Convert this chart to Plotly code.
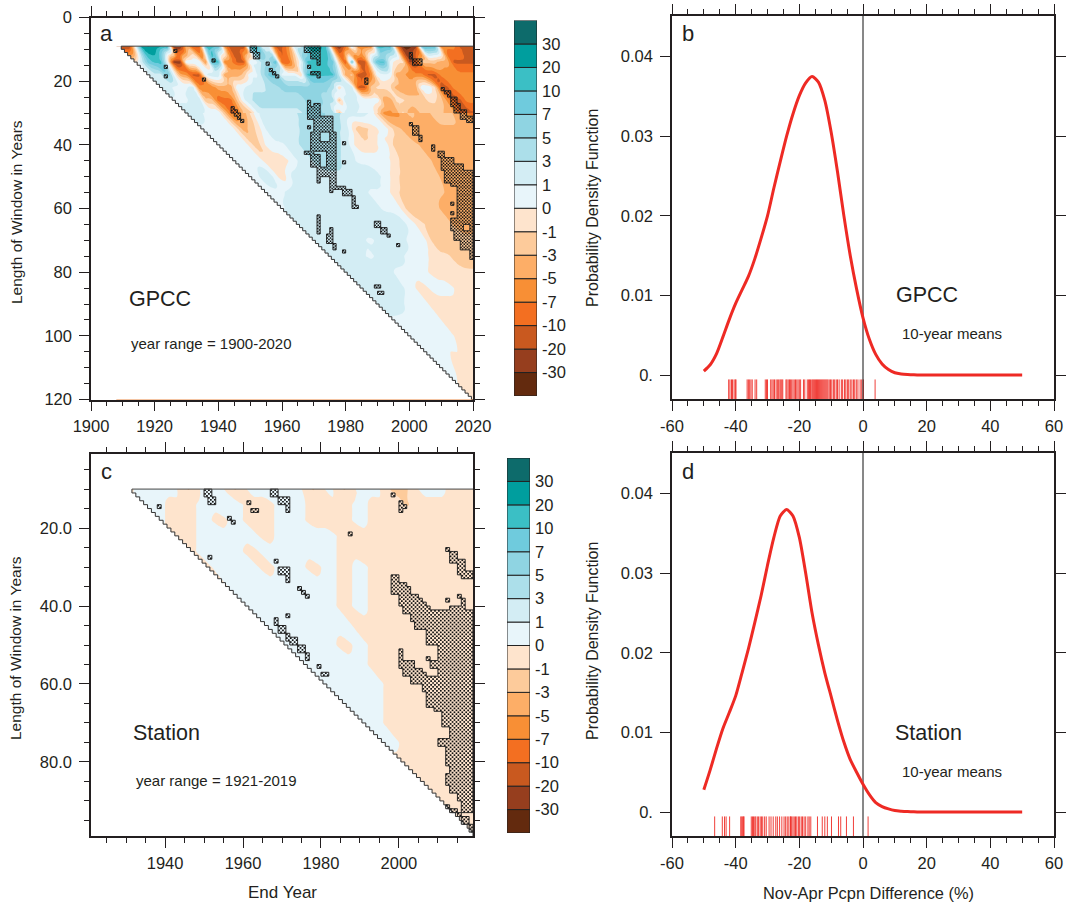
import numpy as np
import plotly.graph_objects as go

# ---------- data ----------
bin_levels = [-60, -30, -20, -10, -7, -5, -3, -1, 0, 1, 3, 5, 7, 10, 20, 30, 60]
bin_colors = ["#632A0E", "#963E1E", "#C9591F", "#F36F21", "#F88F35", "#FDAE67", "#FDCB9B", "#FEE4CD",
              "#E8F5FA", "#D3EDF4", "#ACDFEA", "#8FD4E2", "#6FCBDD", "#3BBFC5", "#009E9E", "#0D6B6B"]
bin_labels = ["-30", "-20", "-10", "-7", "-5", "-3", "-1", "0", "1", "3", "5", "7", "10", "20", "30"]

# short windows, every second end-year (rows are right-aligned on 2020)
a_top_end = list(range(1908, 2021, 2))
a_top_len = [9, 14, 18, 22, 26, 30]
a_top_rows = [
    [-25,-25,-25,1,35,40,35, 25,25,-50,-50,-3,-15,-15,15,15,15, -7,-25,-25,-25,25,25,1,1,-15,-15,
     -7,3,3,30,30,30,12,-10,-50,-10, 3,-8,-8,-8,18,18,18,-8,-50,-50, -30,15,15,12,-8,-8,-8,-15,-15,-15],
    [-1,-1,3,10,15, 15,1,-30,-30,1,1,1,-7,15,15, -8,-8,-15,-15,1,1,5,5,15,-12,
     -12,-3,1,15,15,15,14,10,-3,-15, 10,-20,-20,1,14,14,1,-1,-1,-25, -25,-3,-3,-3,-5,-5,-15,-15,-15,-15],
    [1,1,3, 3,10,1,-5,-7,-15,-15,1,3,3, -5,-5,-5,-3,1,1,5,10,10,1,
     1,1,-1,15,15,15,15,15,3,-5, -3,-20,-20,-8,1,1,1,-5,-5,-8, -8,-8,-15,-15,-8,-8,-8,-8,-8,-8],
    [3, 3,3,1,1,1,3,-8,-8,-8,-5, -5,-5,1,1,3,3,3,5,5,7,
     7,7,7,7,7,7,7,5,-1,3, 3,-15,-15,-3,-1,-1,-1,-5,-5,-5, -5,1,1,-1,-15,-15,-8,-8,-8,-8],
    [1,1,1,1,3,3,-3,-3,-10, -10,-10,-3,1,3,5,5,5,5,5,
     5,5,5,7,7,7,5,5,-3,3, 3,1,1,1,1,-5,-5,-1,-1,-3, -3,-3,-1,-1,-3,-7,-15,-15,-8,-8],
    [1,3,3,3,1,1,1, -3,-10,-10,-3,-3,1,3,3,3,3,
     3,3,3,7,7,7,5,5,-3,3, 3,1,1,1,-1,-7,-7,-5,-1,-5, -5,-3,-3,-3,-3,-5,-5,-15,-15,-15],
]
# longer windows, every fourth end-year
a_end = list(range(1908, 2021, 4))
a_len = [30, 35, 40, 45, 50, 55, 60, 65, 70, 75, 80, 85, 90, 95, 100, 110, 120]
a_rows = [
    [1,3,1,1,-10,-5,1,3,3,3,7,7,5,3,3,1,-7,-7,-3,-5,-3,-3,-5,-12],
    [1,1,1,1,-5,-1,3,3,3,5,5,5,3,-3,-1,1,-3,-5,-5,-4,-4,-4,-4],
    [1,1,1,-3,1,1,3,5,5,5,3,-1,-1,1,-3,-3,-4,-4,-4,-4,-4],
    [1,1,1,-1,-1,1,3,5,5,3,1,1,1,-1,-3,-3,-4,-5,-5,-5],
    [1,1,3,-1,3,3,3,3,3,3,3,1,-1,-3,-3,-3,-5,-5,-5],
    [1,1,1,3,3,3,3,3,3,1,1,-1,-3,-3,-3,-4,-5,-5],
    [1,3,3,3,3,3,3,3,1,1,-3,-3,-3,-5,-5,-5],
    [3,3,3,3,2,3,3,3,3,1,-1,-3,-3,-5,-5],
    [3,3,3,3,2,1,3,3,1,1,-3,-3,-3,-3],
    [3,3,2,1,3,2,1,1,-1,-1,-3,-3],
    [3,3,3,3,1,1,1,-1,-1,-1,-1],
    [3,3,3,2,1,-1,1,1,-1,-1],
    [3,2,1,1,-1,-1,-1,-1],
    [1,1,1,1,-1,-1,-1],
    [1,1,1,1,-1,-1],
    [1,-1,-1],
    [-1],
]
# significant blocks: first length, end length, first end-year, end end-year
a_sig = [
    (15,16,1923,1924),(18,19,1923,1924),(10,11,1926,1927),(19,20,1935,1936),(13,14,1938,1939),
    (9,11,1950,1952),(11,13,1951,1953),(14,15,1955,1956),(16,17,1956,1957),(17,18,1957,1958),(18,19,1958,1959),
    (28,30,1944,1945),(29,31,1945,1946),(30,32,1946,1947),(32,33,1947,1948),
    (9,11,1967,1972),(11,13,1969,1972),(13,15,1971,1972),(15,16,1968,1969),(17,18,1969,1972),(18,19,1971,1972),
    (26,28,1968,1969),(27,29,1970,1972),(28,32,1968,1972),(31,36,1970,1976),(34,35,1968,1969),
    (36,39,1969,1972),(36,39,1975,1977),(39,42,1969,1977),(42,43,1967,1970),(43,47,1969,1972),
    (42,47,1974,1977),(47,50,1971,1977),(50,52,1971,1972),(50,54,1975,1977),(53,54,1976,1980),
    (54,55,1975,1976),(54,56,1979,1982),(56,59,1982,1983),(59,60,1982,1984),(39,40,1979,1980),(45,46,1979,1980),
    (11,13,2000,2001),(13,15,2001,2004),(19,21,1986,1987),
    (22,23,2010,2011),(23,24,2011,2013),(24,25,2012,2013),(25,28,2013,2015),(27,30,2014,2016),(29,32,2016,2018),(31,33,2018,2020),
    (33,34,2000,2001),(34,37,2001,2003),(37,39,2003,2004),
    (40,42,2007,2008),(42,44,2009,2011),(44,46,2010,2014),(46,48,2010,2017),(48,52,2011,2020),(52,53,2013,2020),
    (53,63,2015,2020),(58,59,2013,2014),(61,62,2013,2014),(63,65,2013,2020),(65,67,2013,2017),(65,67,2019,2020),
    (67,70,2014,2020),(70,73,2016,2020),(73,76,2019,2020),
    (62,68,1971,1972),(66,69,1975,1976),(68,71,1974,1976),(71,73,1976,1977),(73,74,1979,1980),
    (64,66,1989,1991),(66,68,1991,1993),(68,69,1993,1994),(71,72,1996,1997),(84,85,1989,1991),(86,87,1990,1992),
]

c_end = list(range(1930, 2015, 4)) + [2019]
c_len = [10, 14, 18, 22, 26, 30, 35, 40, 45, 50, 55, 60, 65, 70, 75, 80, 90, 99]
P, N, M = 0.5, -0.5, -1.5
c_rows = [
    [N,P,P,P,M,P,P,M,P,P,P,P,M,P,M,P,P,M,M,P,P,N,N],
    [P,P,N,N,P,P,P,N,N,P,P,N,N,N,P,N,N,M,N,N,N,N],
    [P,N,N,P,N,P,N,N,P,P,N,N,N,P,N,N,N,N,N,N,N],
    [N,N,P,P,P,P,N,P,P,P,P,N,N,N,N,N,N,N,N,N],
    [N,P,P,P,N,P,P,P,P,P,N,N,N,N,N,N,N,N,N],
    [N,P,P,P,N,P,P,N,P,N,P,N,N,N,N,N,N,N],
    [N,P,P,P,P,P,P,P,N,P,N,N,N,N,N,N,N],
    [P,P,P,P,P,P,N,P,N,N,N,N,N,N,N],
    [P,P,P,P,P,P,N,N,N,N,N,N,N,N],
    [P,P,P,P,N,P,N,N,N,N,N,N,N],
    [P,P,P,P,P,N,N,N,N,N,N,N],
    [P,P,P,P,N,N,N,N,N,N],
    [P,P,P,N,N,N,N,N,N],
    [P,P,N,N,N,N,N,N],
    [P,P,N,N,N,N,N],
    [N,N,N,N,N,N],
    [N,N,N,N],
    [N],
]
c_sig = [
    (10,12,1950,1952),(12,14,1951,1953),(14,15,1938,1939),(13,14,1961,1962),(15,16,1962,1964),(17,18,1956,1957),
    (18,19,1957,1958),(27,28,1951,1952),(10,12,1967,1969),(12,14,1969,1972),(14,16,1971,1972),
    (28,29,1968,1969),(30,32,1969,1972),(32,34,1971,1972),(35,36,1974,1975),(36,37,1975,1976),(37,38,1976,1977),
    (42,43,1971,1972),(43,45,1968,1969),(45,47,1969,1971),(47,49,1971,1972),(48,50,1972,1974),(50,52,1974,1976),
    (52,54,1976,1977),(55,56,1979,1980),(57,58,1980,1982),(11,12,1998,1999),(13,16,2000,2001),(14,15,2001,2002),
    (21,22,1987,1988),(25,26,2012,2013),(26,29,2013,2015),(28,32,2015,2017),(31,33,2016,2019),(38,39,2012,2013),(37,38,2015,2016),
    (32,34,1998,2000),(34,35,1998,2002),(35,37,1998,2003),(37,38,2000,2005),(38,39,2000,2006),(39,40,2000,2007),
    (40,41,2001,2008),(38,40,2016,2017),(40,41,2013,2017),(41,42,2001,2019),(42,44,2003,2019),(44,46,2004,2019),
    (46,50,2007,2019),(50,54,2010,2019),(53,54,2007,2008),(54,56,2008,2019),
    (51,54,2000,2001),(54,56,2000,2004),(56,58,2001,2006),(56,58,2010,2019),(57,58,2005,2007),(58,60,2003,2019),
    (60,62,2006,2019),(62,66,2007,2019),(66,67,2009,2019),(67,71,2011,2019),(71,74,2013,2019),(74,76,2010,2019),
    (76,81,2012,2019),(81,83,2013,2019),(83,86,2012,2019),(86,88,2013,2019),(88,90,2015,2019),(90,93,2016,2019),
    (91,92,2012,2013),(92,93,2013,2015),(93,94,2015,2016),(94,96,2016,2018),(96,98,2018,2019),
]

b_x = [-50,-48,-46,-44,-42,-40,-38,-36,-34,-32,-30,-28,-26,-24,-22,-20,-18,-16,-14,-12,-10,-8,-6,-4,-2,0,2,4,6,8,10,12,14,16,18,20,25,30,35,40,45,50]
b_y = [.0005,.0013,.0027,.0048,.0070,.0090,.0107,.0124,.0146,.0172,.0200,.0235,.0268,.0300,.0328,.0351,.0367,.0375,.0368,.0345,.0305,.0255,.0200,.0150,.0108,.0072,.0045,.0026,.0014,.0007,.0003,.00015,.00008,.00004,.00002,.00001,0,0,0,0,0,0]
d_x = b_x
d_y = [.0028,.0053,.0080,.0105,.0125,.0146,.0175,.0205,.0238,.0272,.0310,.0345,.0372,.0380,.0372,.0345,.0300,.0250,.0210,.0175,.0145,.0115,.0088,.0066,.0050,.0035,.0022,.0012,.0007,.0004,.0002,.00012,.00007,.00004,.00002,.00001,0,0,0,0,0,0]
b_rug = [-42.2,-41.8,-41.3,-41,-40.5,-40.1,-39.9,-36.4,-36,-35.6,-35.2,-34.8,-33.9,-33.4,-30.7,-30.3,-30,-29,-28.6,-28.2,-27.8,-27.3,-26.9,-26.5,-26.1,-25.8,-25.5,-25.2,
         -24.2,-23.9,-23.5,-23.1,-22.8,-22.4,-22,-21.6,-21.2,-20.8,-20.4,-20,-19.6,-18.7,-18.3,-17.5,-17.1,-16.8,-16.5,-16.1,-15.8,-15.5,-15.2,-14.9,-14.6,-14.3,-14,-13.7,-13.4,-13.1,
         -12.8,-12.5,-12.2,-11.9,-11.6,-11.3,-11,-10.6,-10.2,-9.8,-9.3,-8.9,-8.4,-8,-7.5,-6.8,-6.4,-5.8,-5.4,-4.9,-4.5,-4,-3.5,-3,-2.6,-2.1,-1.6,-0.9,-0.4,0.1,3.8]
d_rug = [-46.6,-44.2,-43.5,-43,-41.9,-38.4,-38.1,-37.8,-37.5,-37.4,-35.1,-34.7,-34.4,-34,-33.7,-33.2,-32.8,-32.3,-31.9,-31.5,-30.9,-30.4,-29.5,-28.9,-28.2,-27.4,-26.9,-26.2,-25.5,-24.8,
         -24.3,-23.8,-23.3,-22.8,-22.7,-22.4,-22,-21.6,-21.2,-20.8,-20.3,-19.9,-19.4,-19,-18.5,-18,-17.3,-16.9,-16.4,-14.3,-12.8,-12,-11.2,-9.9,-7.7,-7,-5.2,-3,1.6]

W, H = 1067, 903
FONT = "Liberation Sans"
INK = "#231F20"
RED = "#EE2A24"


def hx(px):
    return px / W


def hy(py):
    return 1 - py / H


def to_bin(values):
    # readings name the upper edge of a colour band, so pull them just inside it
    return np.interp(np.asarray(values, float) * 0.8, bin_levels, np.arange(-8, 9))


def grid(rows, ncols):
    out = []
    for r in rows:
        out.append([r[0]] * (ncols - len(r)) + list(r))
    return to_bin(out)


def sheared(end, length, rows, slant):
    # draw between the read rows along the slant of the streaks, on a one-year lattice
    g = grid(rows, len(end))
    xf = np.arange(end[0], end[-1] + 1)
    lf = np.arange(length[0], length[-1] + 1)
    out = []
    for L in lf:
        i = min(np.searchsorted(length, L, side="right") - 1, len(length) - 2)
        l1, l2 = length[i], length[i + 1]
        t = (L - l1) / (l2 - l1)
        v1 = np.interp(xf - slant * (L - l1), end, g[i])
        v2 = np.interp(xf + slant * (l2 - L), end, g[i + 1])
        out.append((1 - t) * v1 + t * v2)
    return xf, lf, np.array(out)


def sig_cells(blocks, x0):
    cells = set()
    for l0, l1, e0, e1 in blocks:
        for L in range(l0, l1):
            for E in range(e0, e1):
                if E + 1 > x0 + L + 0.5:
                    cells.add((E, L))
    return cells


def add_field(fig, xa, ya, end, length, rows, slant):
    colorscale = [[i / 15, c] for i, c in enumerate(bin_colors)]
    xf, lf, z = sheared(end, length, rows, slant)
    fig.add_trace(go.Contour(x=xf, y=lf, z=z, xaxis=xa, yaxis=ya,
                             colorscale=colorscale, showscale=False, hoverinfo="skip",
                             contours=dict(start=-7, end=7, size=1, coloring="fill", showlines=False),
                             line=dict(width=0)))


def add_overlay(fig, xa, ya, x_end, sig, x0, l_top, l_bot, dot):
    Ls = np.arange(l_top, l_bot + 1)
    sx, sy = [], []
    for L in Ls:
        sx += [x0 + L + 0.5, x0 + L + 0.5]
        sy += [L, L + 1]
    sy = [min(v, l_bot) for v in sy]
    sx = [min(v, x_end) for v in sx]
    fig.add_trace(go.Scatter(x=sx + [x0, x0, sx[0]], y=sy + [l_bot, l_top, l_top], xaxis=xa, yaxis=ya,
                             mode="lines", fill="toself", fillcolor="white", line=dict(width=0),
                             hoverinfo="skip"))
    cells = sig_cells(sig, x0)
    dx, dy = [], []
    for E, L in cells:
        dx += [E + 0.25, E + 0.75]
        dy += [L + 0.25, L + 0.75]
    fig.add_trace(go.Scatter(x=dx, y=dy, xaxis=xa, yaxis=ya, mode="markers", hoverinfo="skip",
                             marker=dict(symbol="square", size=dot, color="#111111", line=dict(width=0))))
    ex, ey = [], []
    for E, L in cells:
        if (E - 1, L) not in cells:
            ex += [E, E, None]; ey += [L, L + 1, None]
        if (E + 1, L) not in cells:
            ex += [E + 1, E + 1, None]; ey += [L, L + 1, None]
        if (E, L - 1) not in cells:
            ex += [E, E + 1, None]; ey += [L, L, None]
        if (E, L + 1) not in cells:
            ex += [E, E + 1, None]; ey += [L + 1, L + 1, None]
    fig.add_trace(go.Scatter(x=ex, y=ey, xaxis=xa, yaxis=ya, mode="lines", hoverinfo="skip",
                             line=dict(color="#222222", width=1)))
    fig.add_trace(go.Scatter(x=[sx[0]] + sx, y=[l_top] + sy, xaxis=xa, yaxis=ya, mode="lines", hoverinfo="skip",
                             line=dict(color="#333333", width=1)))
    fig.add_trace(go.Scatter(x=[sx[0], x_end], y=[l_top, l_top], xaxis=xa, yaxis=ya, mode="lines", hoverinfo="skip",
                             line=dict(color="#444444", width=1)))


def add_pdf(fig, xa, ya, x, y, rug):
    fig.add_trace(go.Scatter(x=rug, y=[-0.00195] * len(rug), xaxis=xa, yaxis=ya, mode="markers", hoverinfo="skip",
                             marker=dict(symbol="line-ns", size=16, line=dict(color=RED, width=0.9))))
    fig.add_trace(go.Scatter(x=[0, 0], y=[-0.003, 0.0451], xaxis=xa, yaxis=ya, mode="lines", hoverinfo="skip",
                             line=dict(color="#111111", width=1)))
    fig.add_trace(go.Scatter(x=x, y=y, xaxis=xa, yaxis=ya, mode="lines", hoverinfo="skip",
                             line=dict(color=RED, width=3, shape="spline", smoothing=0.7)))


def add_bar(fig, xa, ya):
    fig.add_trace(go.Bar(x=[0.5] * 16, y=[1] * 16, base=list(range(16)), width=1, xaxis=xa, yaxis=ya,
                         marker=dict(color=bin_colors, line=dict(color="#222222", width=1)), hoverinfo="skip"))


fig = go.Figure()
add_field(fig, "x", "y", a_end, a_len, a_rows, 0.6)
add_field(fig, "x", "y", a_top_end, a_top_len, a_top_rows, 0.6)
add_overlay(fig, "x", "y", 2020, a_sig, 1900, 9, 120, 1.5)
add_pdf(fig, "x2", "y2", b_x, b_y, b_rug)
add_field(fig, "x3", "y3", c_end, c_len, c_rows, 0.5)
add_overlay(fig, "x3", "y3", 2019, c_sig, 1921, 10, 99, 1.7)
add_pdf(fig, "x4", "y4", d_x, d_y, d_rug)
add_bar(fig, "x5", "y5")
add_bar(fig, "x6", "y6")

TICK_SIZE = 16.5


def axis(x0, x1, rng, anchor, **kw):
    base = dict(domain=[x0, x1], range=rng, anchor=anchor, showgrid=False, zeroline=False, showline=True,
                automargin=False, linecolor=INK, linewidth=1.5, mirror="allticks", ticks="outside", ticklen=10,
                tickwidth=1.2, tickcolor=INK, tickfont=dict(family=FONT, size=TICK_SIZE, color=INK))
    base.update(kw)
    return base


def minor(step, start):
    return dict(ticks="outside", ticklen=5, tickwidth=1, tickcolor=INK, dtick=step, tick0=start, showgrid=False)


yb = dict(tickvals=[0, 0.01, 0.02, 0.03, 0.04], ticktext=["0.", "0.01", "0.02", "0.03", "0.04"], ticklabelstandoff=4)
xb = dict(tickvals=[-60, -40, -20, 0, 20, 40, 60], ticktext=["-60", "-40", "-20", "0", "20", "40", "60"],
          ticklabelstandoff=1, minor=minor(5, -60))
layout = dict(
    template="none",
    width=W, height=H, autosize=False, margin=dict(l=0, r=0, t=0, b=0), paper_bgcolor="white", plot_bgcolor="white",
    showlegend=False,
    font=dict(family=FONT, color=INK),
    xaxis=axis(hx(91), hx(473), [1900, 2020], "y", tick0=1900, dtick=20, minor=minor(5, 1900), ticklabelstandoff=1),
    yaxis=axis(hy(399.5), hy(17.5), [120, 0], "x", tick0=0, dtick=20, minor=minor(5, 0), ticklabelstandoff=4),
    xaxis2=axis(hx(672), hx(1054), [-60, 60], "y2", **xb),
    yaxis2=axis(hy(399), hy(16), [-0.003, 0.0451], "x2", **yb),
    xaxis3=axis(hx(91), hx(473), [1921, 2019], "y3", tickvals=[1940, 1960, 1980, 2000], minor=minor(5, 1920), ticklabelstandoff=1),
    yaxis3=axis(hy(836), hy(454), [99, 1], "x3", tickvals=[20, 40, 60, 80],
                ticktext=["20.0", "40.0", "60.0", "80.0"], minor=minor(5, 0), ticklabelstandoff=4),
    xaxis4=axis(hx(672), hx(1054), [-60, 60], "y4", **xb),
    yaxis4=axis(hy(836), hy(453), [-0.003, 0.0451], "x4", **yb),
    xaxis5=dict(domain=[hx(514), hx(537)], range=[0, 1], anchor="y5", visible=False),
    yaxis5=dict(domain=[hy(396), hy(20.5)], range=[0, 16], anchor="x5", side="right", showgrid=False, zeroline=False,
                automargin=False, showline=False, ticks="", tickvals=list(range(1, 16)), ticktext=bin_labels,
                ticklabelstandoff=4, tickfont=dict(family=FONT, size=TICK_SIZE, color=INK)),
    xaxis6=dict(domain=[hx(507), hx(530)], range=[0, 1], anchor="y6", visible=False),
    yaxis6=dict(domain=[hy(833), hy(458)], range=[0, 16], anchor="x6", side="right", showgrid=False, zeroline=False,
                automargin=False, showline=False, ticks="", tickvals=list(range(1, 16)), ticktext=bin_labels,
                ticklabelstandoff=4, tickfont=dict(family=FONT, size=TICK_SIZE, color=INK)),
)


def note(px, py, text, size, angle=0):
    return dict(xref="paper", yref="paper", x=hx(px), y=hy(py), text=text, showarrow=False, textangle=angle,
                xanchor="center", yanchor="middle", font=dict(family=FONT, size=size, color=INK))


layout["annotations"] = [
    note(107, 33, "a", 22), note(688, 33, "b", 22), note(107, 471, "c", 22), note(688, 472, "d", 22),
    note(160, 299, "GPCC", 21.5), note(211, 343, "year range = 1900-2020", 15),
    note(927, 295, "GPCC", 21.5), note(952, 333, "10-year means", 15),
    note(166, 733, "Station", 21.5), note(216, 780, "year range = 1921-2019", 15),
    note(928, 733, "Station", 21.5), note(952, 771, "10-year means", 15),
    note(16, 212, "Length of Window in Years", 15.5, -90), note(15, 648, "Length of Window in Years", 15.5, -90),
    note(592, 208, "Probability Density Function", 16, -90), note(592, 641, "Probability Density Function", 16, -90),
    note(282, 892, "End Year", 17), note(868, 893, "Nov-Apr Pcpn Difference (%)", 16.4),
]
fig.update_layout(**layout)
fig.write_html("out.html", config={"displayModeBar": False}, post_script="document.body.style.margin='0';")
